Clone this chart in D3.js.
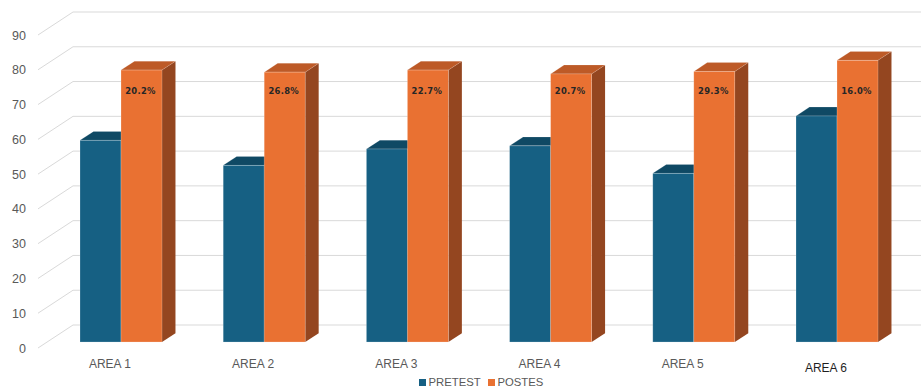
<!DOCTYPE html>
<html>
<head>
<meta charset="utf-8">
<script src="https://cdn.jsdelivr.net/npm/d3@7"></script>
<style>
  html, body { margin: 0; padding: 0; background: #ffffff; }
  svg { display: block; }
</style>
</head>
<body>
<svg id="chart" width="921" height="388"></svg>
<script>
// Scores per area, before and after
const categories = ["AREA 1", "AREA 2", "AREA 3", "AREA 4", "AREA 5", "AREA 6"];
const pretest = [58.0, 50.8, 55.5, 56.4, 48.5, 65.0];
const postest = [78.2, 77.6, 78.2, 77.1, 77.8, 81.0];
const yTicks = [0, 10, 20, 30, 40, 50, 60, 70, 80, 90];
const seriesNames = ["PRETEST", "POSTES"];

const W = 921, H = 388;
const svg = d3.select("#chart");

// Oblique 3D projection: depth d in [0,1] shifts right and up
const DEPTH_X = 35, DEPTH_Y = -23;
const proj = (x, y, d) => [x + d * DEPTH_X, y + d * DEPTH_Y];

const x = d3.scaleBand().domain(categories).range([40.3, 899.5]);
const y = d3.scaleLinear().domain([0, 90]).range([348, 35]);

const wallLeft = 38;
const gridColor = "#d9d9d9";

// Gridlines: side-wall diagonal + back-wall horizontal
const grid = svg.append("g");
yTicks.forEach(v => {
  const f = proj(wallLeft, y(v), 0);
  const b = proj(wallLeft, y(v), 1);
  grid.append("path")
    .attr("d", `M${f[0]},${f[1]}L${b[0]},${b[1]}L${W},${b[1]}`)
    .attr("fill", "none")
    .attr("stroke", gridColor)
    .attr("stroke-width", 1);
});

// Y tick labels
svg.append("g").selectAll("text")
  .data(yTicks).join("text")
  .attr("x", 26)
  .attr("y", d => y(d) + 4.5)
  .attr("text-anchor", "end")
  .attr("font-family", "Liberation Sans, Arial, sans-serif")
  .attr("font-size", 12.5)
  .attr("fill", "#595959")
  .text(d => d);

// Bars
const barW = 41;
const d0 = 0.26, d1 = 0.645;
const palette = [
  { front: "#166083", top: "#0f4964", side: "#0d3f57" },
  { front: "#e97132", top: "#bd5a27", side: "#944620" }
];

function drawBar(g, x0, v, c) {
  const yb = y(0), yt = y(v);
  const x1 = x0 + barW;
  const pt = (px, py, d) => proj(px, py, d).join(",");
  // right side
  g.append("polygon")
    .attr("points", [pt(x1, yt, d0), pt(x1, yt, d1), pt(x1, yb, d1), pt(x1, yb, d0)].join(" "))
    .attr("fill", c.side);
  // top
  g.append("polygon")
    .attr("points", [pt(x0, yt, d0), pt(x0, yt, d1), pt(x1, yt, d1), pt(x1, yt, d0)].join(" "))
    .attr("fill", c.top)
    .attr("stroke", "rgba(255,255,255,0.25)").attr("stroke-width", 0.6);
  // front
  const a = proj(x0, yt, d0), b = proj(x1, yb, d0);
  g.append("rect")
    .attr("x", a[0]).attr("y", a[1])
    .attr("width", b[0] - a[0]).attr("height", b[1] - a[1])
    .attr("fill", c.front)
    .attr("stroke", "rgba(255,255,255,0.3)").attr("stroke-width", 0.7);
}

const bars = svg.append("g");
categories.forEach((cat, i) => {
  const cx = x(cat) + x.bandwidth() / 2;
  const g = bars.append("g");
  drawBar(g, cx - barW, pretest[i], palette[0]);
  drawBar(g, cx, postest[i], palette[1]);
  // gain label on the post bar
  const lp = proj(cx + barW / 2 - 1, y(71.3), d0);
  g.append("text")
    .attr("x", lp[0]).attr("y", lp[1])
    .attr("text-anchor", "middle")
    .attr("font-family", "DejaVu Sans, sans-serif")
    .attr("font-weight", "bold")
    .attr("font-size", 8.4)
    .attr("letter-spacing", 0.3)
    .attr("fill", "#262626")
    .text((postest[i] - pretest[i]).toFixed(1) + "%");
});

// Category labels
svg.append("g").selectAll("text")
  .data(categories).join("text")
  .attr("x", d => x(d) + x.bandwidth() / 2 - 2)
  .attr("y", (d, i) => i === categories.length - 1 ? 372 : 368)
  .attr("text-anchor", "middle")
  .attr("font-family", "Liberation Sans, Arial, sans-serif")
  .attr("font-size", 12)
  .attr("fill", (d, i) => i === categories.length - 1 ? "#1f1f1f" : "#595959")
  .text(d => d);

// Legend
const legend = svg.append("g");
const legendItems = [
  { name: seriesNames[0], color: palette[0].front, x: 419 },
  { name: seriesNames[1], color: palette[1].front, x: 488 }
];
legendItems.forEach(it => {
  legend.append("rect")
    .attr("x", it.x).attr("y", 379)
    .attr("width", 7).attr("height", 7)
    .attr("fill", it.color);
  legend.append("text")
    .attr("x", it.x + 9.5).attr("y", 386)
    .attr("font-family", "Liberation Sans, Arial, sans-serif")
    .attr("font-size", 11.3)
    .attr("fill", "#595959")
    .text(it.name);
});
</script>
</body>
</html>
